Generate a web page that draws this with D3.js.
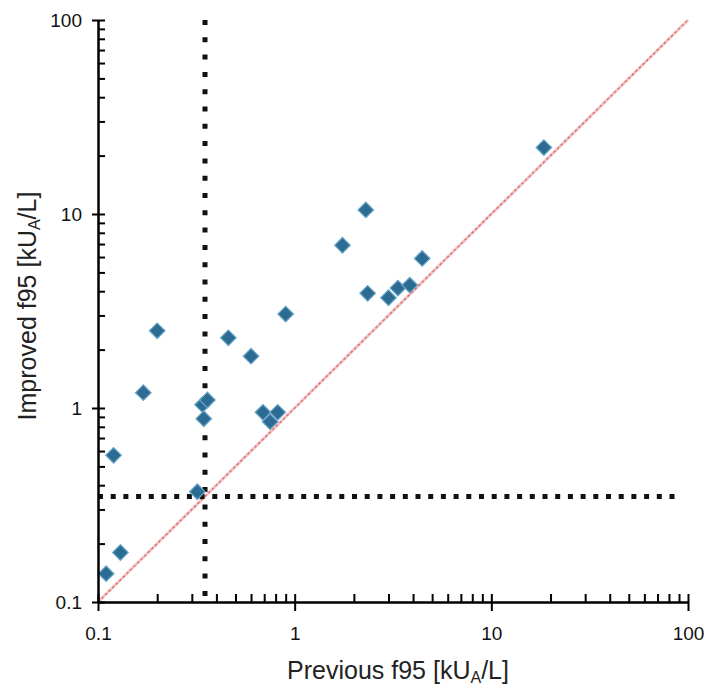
<!DOCTYPE html>
<html>
<head>
<meta charset="utf-8">
<script src="https://cdn.jsdelivr.net/npm/d3@7"></script>
<style>
body { margin: 0; background: #fff; }
svg { display: block; font-family: "Liberation Sans", Arial, sans-serif; }
.axis path, .axis line { stroke: #000; stroke-width: 2; }
.axis text { font-size: 19px; fill: #111; }
</style>
</head>
<body>
<div class="container"></div>
<script>
// previous f95 vs improved f95, kUA/L
var previous = [0.11, 0.13, 0.12, 0.17, 0.2, 0.32, 0.34, 0.36, 0.345, 0.46, 0.6, 0.69, 0.75, 0.82, 0.9, 1.75, 2.3, 2.35, 3.0, 3.35, 3.85, 4.45, 18.5];
var improved = [0.14, 0.18, 0.57, 1.2, 2.5, 0.37, 1.04, 1.1, 0.88, 2.3, 1.85, 0.95, 0.85, 0.95, 3.05, 6.9, 10.5, 3.9, 3.7, 4.15, 4.3, 5.9, 22];
var majorTicks = [0.1, 1, 10, 100];
var cutoff = 0.35;

const WIDTH = 707;
const HEIGHT = 693;

var allTicks = [];
[0.1, 1, 10].forEach(function(d){
	for(var k=1; k<=10; k++) allTicks.push(+(d*k).toPrecision(3));
});
allTicks = Array.from(new Set(allTicks));

var points = previous.map(function(p, i){ return {x: p, y: improved[i]}; });

var svg = d3.select('.container').append('svg')
	.attr('width', WIDTH)
	.attr('height', HEIGHT);

var xScale = d3.scaleLog().domain([0.1, 100]).range([98, 688]);
var yScale = d3.scaleLog().domain([0.1, 100]).range([602, 20]);

// identity line
svg.append('line')
	.attr('x1', xScale(0.1)).attr('y1', yScale(0.1))
	.attr('x2', xScale(100)).attr('y2', yScale(100))
	.attr('stroke', '#f4c4c4').attr('stroke-width', 3);
svg.append('line')
	.attr('x1', xScale(0.1)).attr('y1', yScale(0.1))
	.attr('x2', xScale(100)).attr('y2', yScale(100))
	.attr('stroke', '#d86a72').attr('stroke-width', 1.3)
	.attr('stroke-dasharray', '2.5,2.5');

// cutoff lines
svg.append('line')
	.attr('x1', xScale(cutoff)).attr('y1', yScale(100))
	.attr('x2', xScale(cutoff)).attr('y2', yScale(0.1))
	.attr('stroke', '#111').attr('stroke-width', 5)
	.attr('stroke-dasharray', '5,12.3');
svg.append('line')
	.attr('x1', xScale(0.1)).attr('y1', yScale(cutoff))
	.attr('x2', 682).attr('y2', yScale(cutoff))
	.attr('stroke', '#111').attr('stroke-width', 5)
	.attr('stroke-dasharray', '5,7.7');

// points
var diamond = d3.symbol().type(d3.symbolSquare).size(122);
svg.selectAll('.pt').data(points)
	.enter().append('path')
	.classed('pt', true)
	.attr('d', diamond)
	.attr('transform', function(d){ return 'translate(' + xScale(d.x) + ',' + yScale(d.y) + ') rotate(45)'; })
	.attr('fill', '#2d6c92')
	.attr('stroke', '#6aa6c8')
	.attr('stroke-width', 1.2);

// axes: inward ticks for every value, outward ticks + labels for majors
svg.append('g').classed('axis', true)
	.attr('transform', 'translate(0,' + yScale(0.1) + ')')
	.call(d3.axisBottom(xScale).tickValues(allTicks).tickSize(-8).tickSizeOuter(0).tickFormat(''));
svg.append('g').classed('axis', true)
	.attr('transform', 'translate(0,' + yScale(0.1) + ')')
	.call(d3.axisBottom(xScale).tickValues(majorTicks).tickSize(9).tickSizeOuter(0).tickPadding(16).tickFormat(d3.format('~g')));

svg.append('g').classed('axis', true)
	.attr('transform', 'translate(' + xScale(0.1) + ',0)')
	.call(d3.axisLeft(yScale).tickValues(allTicks).tickSize(-7).tickSizeOuter(0).tickFormat(''));
svg.append('g').classed('axis', true)
	.attr('transform', 'translate(' + xScale(0.1) + ',0)')
	.call(d3.axisLeft(yScale).tickValues(majorTicks).tickSize(6).tickSizeOuter(0).tickPadding(10).tickFormat(d3.format('~g')));

// axis titles
var xTitle = svg.append('text')
	.attr('x', 398).attr('y', 679)
	.attr('text-anchor', 'middle')
	.attr('font-size', 25).attr('fill', '#222');
xTitle.append('tspan').text('Previous f95 [kU');
xTitle.append('tspan').attr('font-size', 16).attr('dy', 4).text('A');
xTitle.append('tspan').attr('dy', -4).text('/L]');

var yTitle = svg.append('text')
	.attr('transform', 'translate(36,306) rotate(-90)')
	.attr('text-anchor', 'middle')
	.attr('font-size', 25).attr('fill', '#222');
yTitle.append('tspan').text('Improved f95 [kU');
yTitle.append('tspan').attr('font-size', 16).attr('dy', 4).text('A');
yTitle.append('tspan').attr('dy', -4).text('/L]');
</script>
</body>
</html>
